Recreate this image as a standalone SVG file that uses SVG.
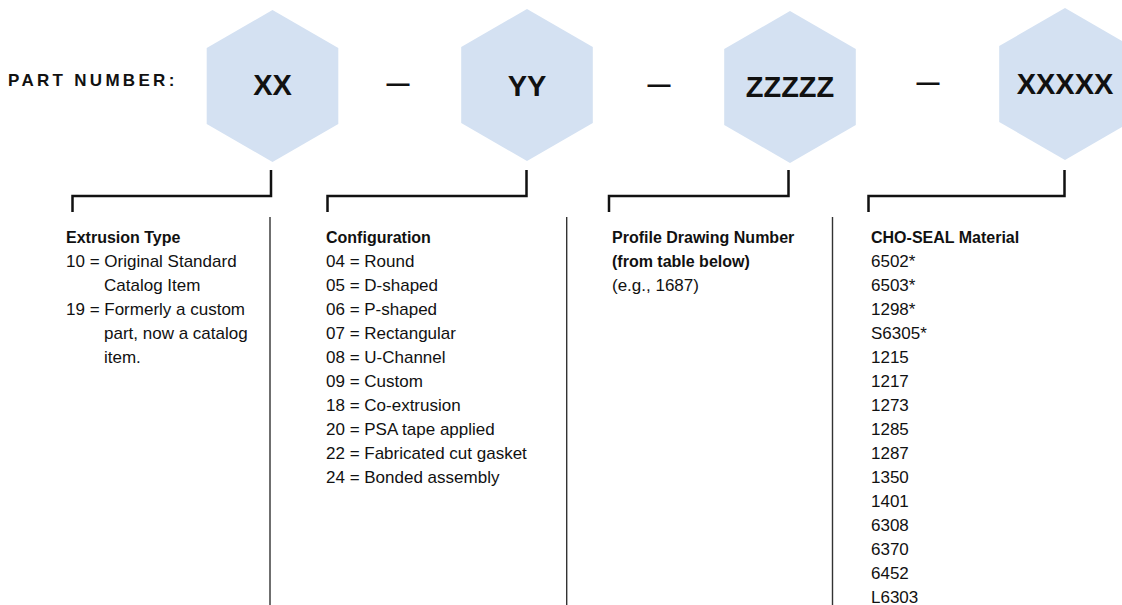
<svg xmlns="http://www.w3.org/2000/svg" width="1122" height="605" viewBox="0 0 1122 605">
<style>
.hex{fill:#d4e1f2;stroke:none}
.code{font-family:"Liberation Sans",Arial,sans-serif;font-weight:bold;font-size:29px;fill:#111;text-anchor:middle}
.dash{font-family:"Liberation Sans",Arial,sans-serif;font-weight:bold;font-size:23px;fill:#111;text-anchor:middle}
.lbl{font-family:"Liberation Sans",Arial,sans-serif;font-weight:bold;font-size:17px;letter-spacing:3.3px;fill:#111}
.h{font-family:"Liberation Sans",Arial,sans-serif;font-weight:bold;font-size:16px;fill:#111}
.t{font-family:"Liberation Sans",Arial,sans-serif;font-size:17px;fill:#111}
.br{fill:none;stroke:#111;stroke-width:2.5}
.sep{fill:none;stroke:#333;stroke-width:1.4}
</style>
<defs>
<polygon id="hexshape" points="0,-76 65.8,-38 65.8,38 0,76 -65.8,38 -65.8,-38"/>
</defs>
<rect width="1122" height="605" fill="#fff"/>
<text class="lbl" x="8" y="86">PART NUMBER:</text>
<g id="node-xx">
<use href="#hexshape" class="hex" x="272.5" y="86"/>
<text class="code" x="272.5" y="95">XX</text>
</g>
<g id="node-yy">
<use href="#hexshape" class="hex" x="527" y="85"/>
<text class="code" x="527" y="96">YY</text>
</g>
<g id="node-zz">
<use href="#hexshape" class="hex" x="790" y="87"/>
<text class="code" x="790" y="97">ZZZZZ</text>
</g>
<g id="node-xxxxx">
<use href="#hexshape" class="hex" x="1065" y="84"/>
<text class="code" x="1065" y="94">XXXXX</text>
</g>
<g id="dashes">
<text class="dash" x="398" y="90.5">—</text>
<text class="dash" x="659" y="91.5">—</text>
<text class="dash" x="928" y="90">—</text>
</g>
<g id="connectors">
<path class="br" d="M271,170 V196 H72.5 V212"/>
<path class="br" d="M526.5,170 V196 H327.5 V212"/>
<path class="br" d="M788.5,170 V196 H609 V212"/>
<path class="br" d="M1064.5,170 V196 H868.5 V212"/>
<path class="sep" d="M270,217 V605 M566.7,217 V605 M832.5,217 V605"/>
</g>
<g id="col-extrusion">
<text class="h" x="66" y="243">Extrusion Type</text>
<text class="t" x="66" y="267">10 = Original Standard</text>
<text class="t" x="104" y="291">Catalog Item</text>
<text class="t" x="66" y="315">19 = Formerly a custom</text>
<text class="t" x="104" y="339">part, now a catalog</text>
<text class="t" x="104" y="363">item.</text>
</g>
<g id="col-configuration">
<text class="h" x="326" y="243">Configuration</text>
<text class="t" x="326" y="267">04 = Round</text>
<text class="t" x="326" y="291">05 = D-shaped</text>
<text class="t" x="326" y="315">06 = P-shaped</text>
<text class="t" x="326" y="339">07 = Rectangular</text>
<text class="t" x="326" y="363">08 = U-Channel</text>
<text class="t" x="326" y="387">09 = Custom</text>
<text class="t" x="326" y="411">18 = Co-extrusion</text>
<text class="t" x="326" y="435">20 = PSA tape applied</text>
<text class="t" x="326" y="459">22 = Fabricated cut gasket</text>
<text class="t" x="326" y="483">24 = Bonded assembly</text>
</g>
<g id="col-profile">
<text class="h" x="612" y="243">Profile Drawing Number</text>
<text class="h" x="612" y="267">(from table below)</text>
<text class="t" x="612" y="291">(e.g., 1687)</text>
</g>
<g id="col-material">
<text class="h" x="871" y="243">CHO-SEAL Material</text>
<text class="t" x="871" y="267">6502*</text>
<text class="t" x="871" y="291">6503*</text>
<text class="t" x="871" y="315">1298*</text>
<text class="t" x="871" y="339">S6305*</text>
<text class="t" x="871" y="363">1215</text>
<text class="t" x="871" y="387">1217</text>
<text class="t" x="871" y="411">1273</text>
<text class="t" x="871" y="435">1285</text>
<text class="t" x="871" y="459">1287</text>
<text class="t" x="871" y="483">1350</text>
<text class="t" x="871" y="507">1401</text>
<text class="t" x="871" y="531">6308</text>
<text class="t" x="871" y="555">6370</text>
<text class="t" x="871" y="579">6452</text>
<text class="t" x="871" y="603">L6303</text>
</g>
</svg>
